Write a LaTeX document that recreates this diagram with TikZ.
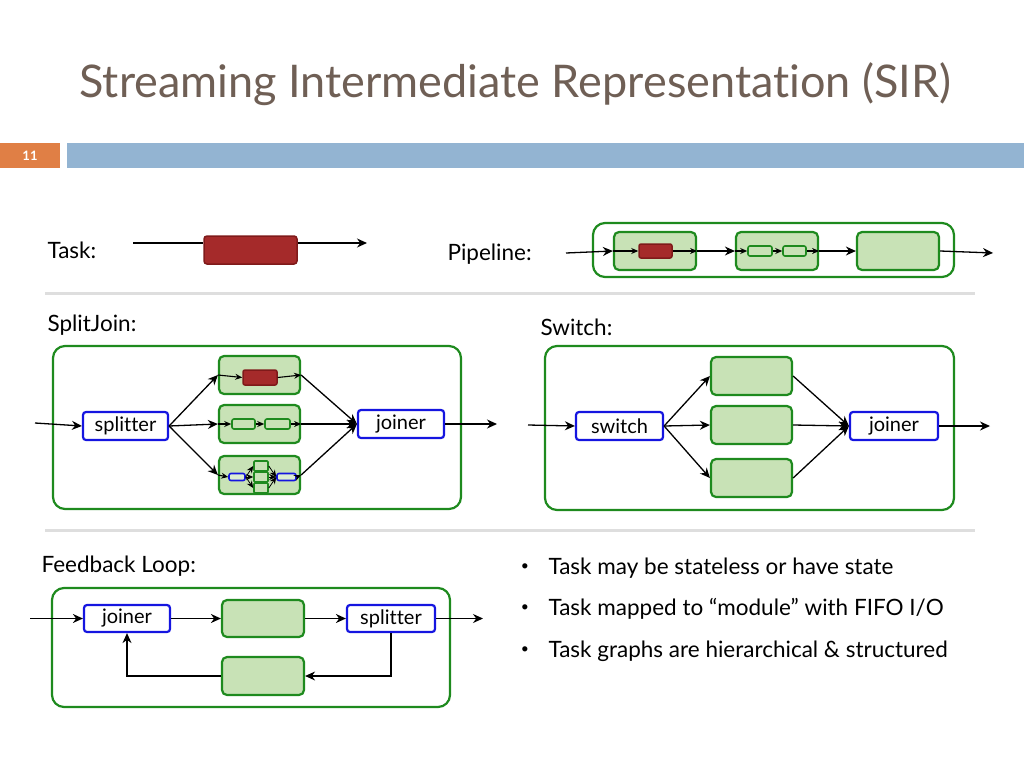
\documentclass[tikz,border=0pt]{standalone}
\usepackage{fontspec}
\setmainfont{Lato}[Ligatures=NoCommon]
\usetikzlibrary{arrows.meta}
\definecolor{gfill}{HTML}{C8E2B6}
\definecolor{gdraw}{HTML}{1E8A1E}
\definecolor{rfill}{HTML}{A52A2A}
\definecolor{rdraw}{HTML}{7F1A1A}
\definecolor{bdraw}{HTML}{1515E0}
\definecolor{titlec}{HTML}{6F5F55}
\definecolor{orangec}{HTML}{E07F45}
\definecolor{bluebar}{HTML}{93B4D2}
\begin{document}
\begin{tikzpicture}[x=1pt,y=-1pt,
  box/.style={draw=gdraw,fill=gfill,line width=2.2pt,rounded corners=5pt},
  outer/.style={draw=gdraw,line width=2.2pt,rounded corners=12pt},
  sg/.style={draw=gdraw,fill=gfill,line width=1.6pt,rounded corners=2pt},
  sr/.style={draw=rdraw,fill=rfill,line width=1.5pt,rounded corners=3pt},
  sb/.style={draw=bdraw,fill=gfill!60,line width=1.6pt,rounded corners=2pt},
  bl/.style={draw=bdraw,fill=white,line width=2.2pt,rounded corners=3pt,font=\fontsize{20}{20}\selectfont,inner sep=0pt},
  arr/.style={-{Stealth[length=10pt,width=9pt]},line width=1.3pt},
  sarr/.style={-{Stealth[length=7pt,width=6pt]},line width=1.1pt},
  lab/.style={anchor=west,font=\fontsize{22.5}{22.5}\selectfont}]
\useasboundingbox (0,0) rectangle (1024,768);
\node[anchor=west,text=titlec,font=\fontsize{45}{45}\selectfont] (title) at (76,84) {Streaming Intermediate Representation (SIR)};
\fill[orangec] (0,143) rectangle (60,168);
\node[text=white,font=\bfseries\fontsize{13}{13}\selectfont] (pg) at (30,155.5) {11};
\fill[bluebar] (67,143) rectangle (1024,168);
% Task
\node[lab] (tl) at (44,250) {Task:};
\coordinate (t0) at (133,243); \coordinate (t1) at (367,243);
\node[sr,minimum width=93pt,minimum height=28pt] (tb) at (250.5,250) {};
\draw[line width=1.3pt] (t0) -- (tb.west |- t0);
\draw[arr] (tb.east |- t1) -- (t1);
% Pipeline
\node[lab] (pl) at (444,254) {Pipeline:};
\draw[outer] (593,223) rectangle (954,277);
\coordinate (p0) at (566,253); \coordinate (p1) at (993,253);
\node[box,minimum width=82pt,minimum height=38pt] (pa) at (655,251) {};
\node[box,minimum width=82pt,minimum height=38pt] (pb) at (777,251) {};
\node[box,minimum width=82pt,minimum height=38pt] (pc) at (898,251) {};
\node[sr,minimum width=33pt,minimum height=14pt,rounded corners=2pt] (pr) at (655.5,251) {};
\node[sg,minimum width=24pt,minimum height=10pt] (pg1) at (760,251) {};
\node[sg,minimum width=23pt,minimum height=10pt] (pg2) at (794.5,251) {};
\draw[arr] (p0) -- (pa.west);
\draw[sarr] (pa.west) -- (pr.west); \draw[sarr] (pr.east) -- (pa.east);
\draw[arr] (pa.east) -- (pb.west);
\draw[sarr] (pb.west) -- (pg1.west); \draw[sarr] (pg1.east) -- (pg2.west); \draw[sarr] (pg2.east) -- (pb.east);
\draw[arr] (pb.east) -- (pc.west);
\draw[arr] (pc.east) -- (p1);
\draw[line width=3pt,black!13] (45,293) -- (975,293);
\draw[line width=3pt,black!13] (45,530) -- (975,530);
% SplitJoin
\node[lab] (sjl) at (44,325) {SplitJoin:};
\draw[outer] (53,346) rectangle (461,509);
\node[bl,minimum width=85pt,minimum height=28pt] (sp) at (125.5,426) {splitter};
\node[bl,minimum width=86pt,minimum height=28pt] (jo) at (401,424) {joiner};
\coordinate (s0) at (35,423); \coordinate (s1) at (497,424);
\node[box,minimum width=81pt,minimum height=38pt] (b1) at (259.5,375) {};
\node[box,minimum width=81pt,minimum height=38pt] (b2) at (259.5,424) {};
\node[box,minimum width=81pt,minimum height=38pt] (b3) at (259.5,475) {};
\node[sr,minimum width=34pt,minimum height=15pt,rounded corners=2pt] (r1) at (260,377.5) {};
\node[sg,minimum width=23pt,minimum height=10pt] (g1) at (243.5,424) {};
\node[sg,minimum width=25pt,minimum height=10pt] (g2) at (277.5,424) {};
\node[sb,minimum width=16pt,minimum height=7pt] (u1) at (237,477) {};
\node[sb,minimum width=19pt,minimum height=7pt] (u2) at (286.5,477) {};
\node[sg,minimum width=14pt,minimum height=10pt,rounded corners=1pt] (c1) at (261,466) {};
\node[sg,minimum width=14pt,minimum height=10pt,rounded corners=1pt] (c2) at (261,477) {};
\node[sg,minimum width=14pt,minimum height=10pt,rounded corners=1pt] (c3) at (261,488) {};
\draw[arr] (s0) -- (sp.west);
\foreach \b in {b1,b2,b3}{\draw[arr] (sp.east) -- (\b.west); \draw[arr] (\b.east) -- (jo.west);}
\draw[arr] (jo.east) -- (s1);
\draw[sarr] (b1.west) -- (r1.west); \draw[sarr] (r1.east) -- (b1.east);
\draw[sarr] (b2.west) -- (g1.west); \draw[sarr] (g1.east) -- (g2.west); \draw[sarr] (g2.east) -- (b2.east);
\draw[sarr] (b3.west) -- (u1.west);
\foreach \c in {c1,c2,c3}{\draw[sarr,line width=0.8pt] (u1.east) -- (\c.west); \draw[sarr,line width=0.8pt] (\c.east) -- (u2.west);}
\draw[sarr] (u2.east) -- (b3.east);
% Switch
\node[lab] (swl) at (537,327) {Switch:};
\draw[outer] (545,346) rectangle (954,510);
\node[bl,minimum width=87pt,minimum height=28pt] (sw) at (619.5,426) {switch};
\node[bl,minimum width=88pt,minimum height=28pt] (sj) at (894,426) {joiner};
\coordinate (w0) at (528,425); \coordinate (w1) at (990,426);
\node[box,minimum width=81pt,minimum height=38pt] (w1b) at (751.5,376) {};
\node[box,minimum width=81pt,minimum height=38pt] (w2b) at (751.5,425) {};
\node[box,minimum width=81pt,minimum height=38pt] (w3b) at (751.5,478) {};
\draw[arr] (w0) -- (sw.west);
\foreach \b in {w1b,w2b,w3b}{\draw[arr] (sw.east) -- (\b.west); \draw[arr] (\b.east) -- (sj.west);}
\draw[arr] (sj.east) -- (w1);
% Feedback
\node[lab] (fbl) at (38,566) {Feedback Loop:};
\draw[outer] (52,588) rectangle (450,707);
\node[bl,minimum width=86pt,minimum height=27pt] (fj) at (127,618.5) {joiner};
\node[bl,minimum width=88pt,minimum height=27pt] (fs) at (391,618.5) {splitter};
\node[box,minimum width=82pt,minimum height=37pt] (fa) at (263,618.5) {};
\node[box,minimum width=82pt,minimum height=38pt] (fb) at (263,676) {};
\coordinate (f0) at (30,618.5); \coordinate (f1) at (483,618.5);
\draw[arr] (f0) -- (fj.west);
\draw[arr] (fj.east) -- (fa.west);
\draw[arr] (fa.east) -- (fs.west);
\draw[arr] (fs.east) -- (f1);
\draw[arr] (fs.south) |- (fb.east);
\draw[arr] (fb.west) -| (fj.south);
% bullets
\foreach \y/\t [count=\i] in {568/{Task may be stateless or have state},609/{Task mapped to “module” with FIFO I\slash O},651/{Task graphs are hierarchical \& structured}}{
  \node[font=\fontsize{14}{14}\selectfont] (bu\i) at (525,\y-1) {•};
  \node[lab] (bt\i) at (545,\y) {\t};}
\end{tikzpicture}
\end{document}
